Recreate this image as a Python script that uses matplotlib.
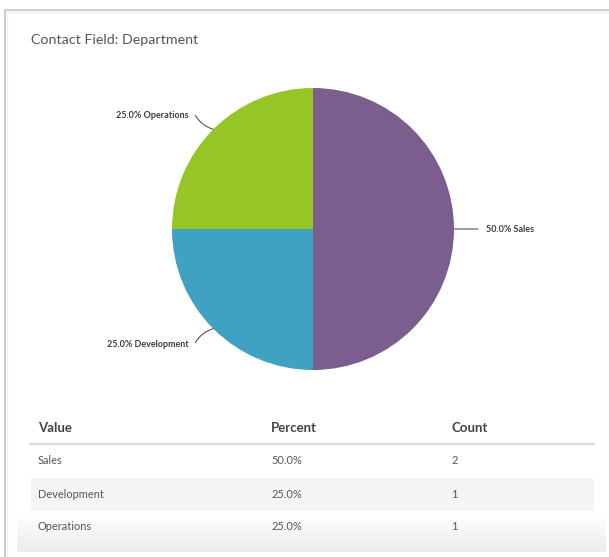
import matplotlib.pyplot as plt
import numpy as np

# Data
departments = ["Sales", "Development", "Operations"]
counts = [2, 1, 1]
percents = [50.0, 25.0, 25.0]
colors = ["#7b5e8d", "#3fa2c3", "#96c526"]
col_headers = ["Value", "Percent", "Count"]
title = "Contact Field: Department"

W, H = 609, 557
plt.rcParams['font.family'] = ['Lato', 'DejaVu Sans']

fig = plt.figure(figsize=(W / 100, H / 100), dpi=100)
ax = fig.add_axes([0, 0, 1, 1])


def py(y):
    # pixel row from top -> data y
    return H - y


# pie
cx, cy, r = 313, py(229), 141
wedges, _ = ax.pie(counts, colors=colors, startangle=90, counterclock=False,
                   center=(cx, cy), radius=r, frame=True,
                   wedgeprops=dict(linewidth=0))
ax.set_xlim(0, W)
ax.set_ylim(0, H)
ax.set_aspect('equal')
ax.axis('off')

# card outline
ax.plot([5, 5, W], [0, py(10), py(10)], color="#c4c4c4", lw=1.2)
ax.plot([6.5, 6.5, W], [0, py(11.5), py(11.5)], color="#efefef", lw=1.0)

# fade at the bottom of the card
shade = np.linspace(1.0, 0.925, 40)
grad = np.stack([shade, shade, shade], axis=-1).reshape(-1, 1, 3)
ax.imshow(grad, extent=[17, 606, py(552), py(512)], aspect='auto',
          interpolation='bilinear', zorder=0.3)
ax.set_xlim(0, W)
ax.set_ylim(0, H)

ax.text(31, py(40), title, fontsize=10.3, color="#555555", va='center', ha='left')

lbl_style = dict(fontsize=6.5, fontweight='bold', color="#3d3d3d", va='center')
line_style = dict(arrowstyle='-', color="#555555", lw=0.8, shrinkA=0, shrinkB=0)
for w, name, pct in zip(wedges, departments, percents):
    mid = np.deg2rad((w.theta1 + w.theta2) / 2)
    ex, ey = cx + r * np.cos(mid), cy + r * np.sin(mid)
    label = f"{pct:.1f}% {name}"
    if np.cos(mid) > 0.5:
        ax.annotate("", xy=(ex, ey), xytext=(ex + 24, ey), arrowprops=line_style)
        ax.text(ex + 32, ey - 1, label, ha='left', **lbl_style)
    else:
        sgn = np.sign(np.sin(mid))
        tx, ty = ex - 18, ey + sgn * 14
        ax.annotate("", xy=(ex, ey), xytext=(tx, ty),
                    arrowprops=dict(line_style, connectionstyle=f"arc3,rad={0.2 * sgn}"))
        ax.text(tx - 7, ty + sgn * 0.5 - 1, label, ha='right', **lbl_style)

# table
col_x = [38, 271, 451]
header_y = 428
row_y0, row_h = 461, 33
for x, h in zip(col_x, col_headers):
    ax.text(x, py(header_y), h, fontsize=9.5, fontweight='bold', color="#444444",
            va='center', ha='left')
ax.plot([30, 594], [py(444), py(444)], color="#dddddd", lw=1.6)
for i, (name, pct, cnt) in enumerate(zip(departments, percents, counts)):
    y = row_y0 + i * row_h
    if i % 2 == 1:
        ax.add_patch(plt.Rectangle((31, py(y + row_h / 2)), 563, row_h,
                                   color="#f5f5f5", lw=0, zorder=0.5))
    for x, s in zip(col_x, [name, f"{pct:.1f}%", str(cnt)]):
        ax.text(x, py(y), s, fontsize=7.9, color="#555555", va='center', ha='left',
                zorder=3)

fig.savefig("out.png", dpi=100)
